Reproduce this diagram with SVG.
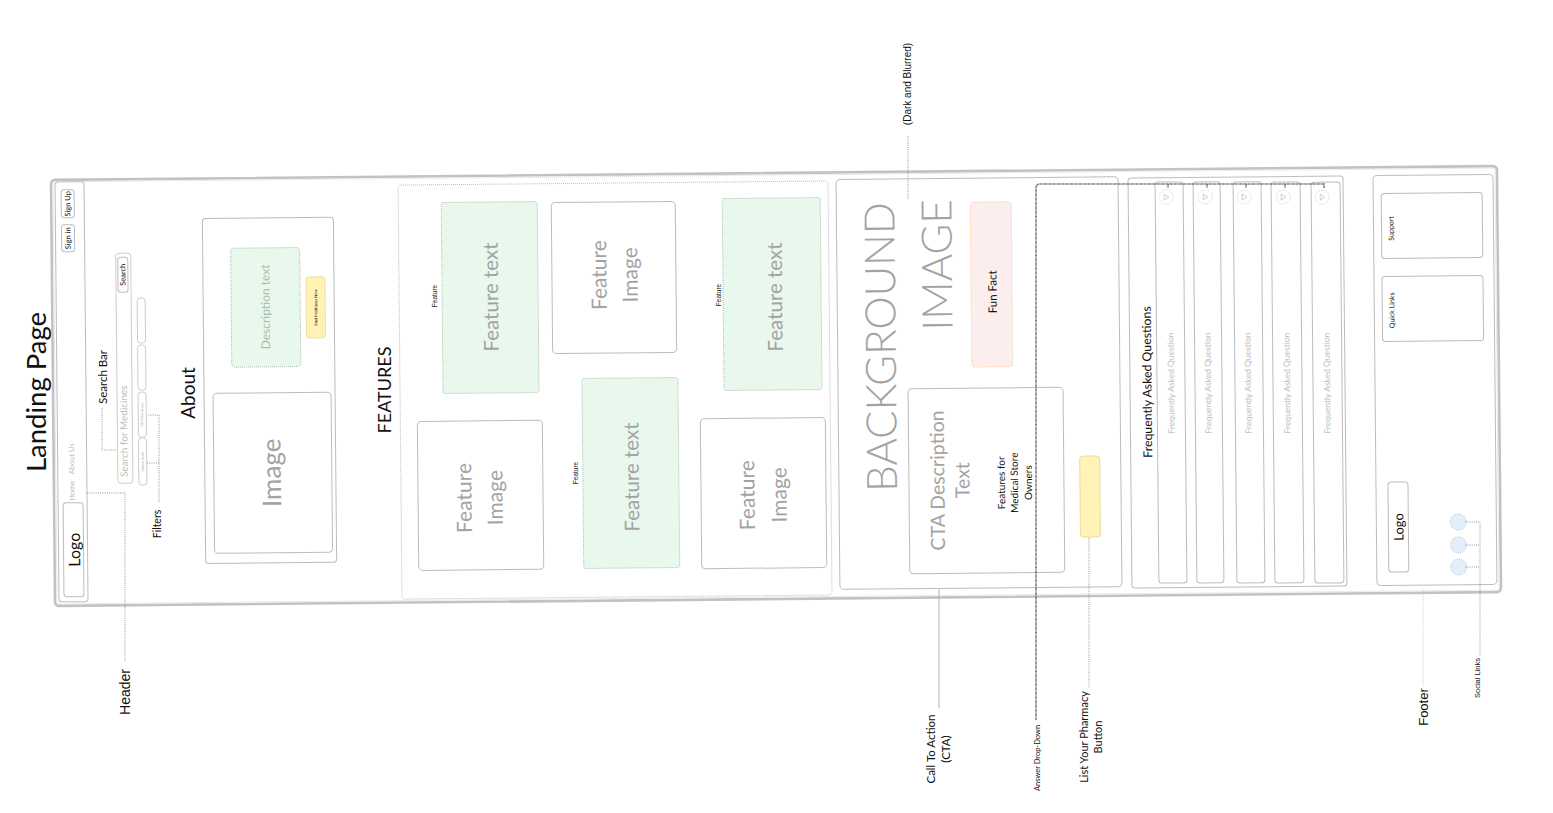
<svg xmlns="http://www.w3.org/2000/svg" width="1553" height="813" viewBox="0 0 1553 813">
<style>
.bg{fill:#fff}
.box{fill:#fff;stroke:#bdbdbd;stroke-width:1}
.lbox{fill:none;stroke:#c8c8c8;stroke-width:0.9}
.dbox{fill:#fff;stroke:#b5b5b5;stroke-width:0.9;stroke-dasharray:1 1}
.green{fill:#e9f8ec;stroke:#a9b7ab;stroke-width:0.9;stroke-dasharray:1 1}
.dot{fill:none;stroke:#8a8a8a;stroke-width:0.9;stroke-dasharray:1 1.2}
.dense{fill:none;stroke:#555;stroke-width:1.6;stroke-dasharray:0.8 0.5}
.solid{fill:none;stroke:#aaa;stroke-width:0.9}
.t{font-family:Lato,"Noto Sans",sans-serif;text-anchor:middle;dominant-baseline:central;fill:#111}
.a{font-family:"Liberation Sans",Arial,sans-serif;text-anchor:middle;dominant-baseline:central;fill:#111}
.g{fill:#a3a3a3}
.lg{fill:#bdbdbd}
</style>
<rect class="bg" x="0" y="0" width="1553" height="813"/>

<g id="title">
<text class="t" x="35" y="392" font-size="27.5" transform="rotate(-90 35 392)">Landing Page</text>
</g>

<g id="wireframe" transform="rotate(-0.55 776 386)">
  <g id="frame">
    <rect x="53" y="173" width="1446" height="426" rx="4" fill="none" stroke="#c2c2c2" stroke-width="2.6"/>
    <rect x="55" y="175" width="1442" height="422" rx="3" fill="none" stroke="#e6e6e6" stroke-width="0.8"/>
  </g>

  <g id="header">
    <rect class="box" x="57" y="175" width="29" height="420" rx="3"/>
    <rect class="box" x="62" y="496" width="20" height="94" rx="3"/>
    <text class="t" x="72" y="543" font-size="16" transform="rotate(-90 72 543)">Logo</text>
    <text class="t lg" x="71" y="484" font-size="7.5" transform="rotate(-90 71 484)">Home</text>
    <text class="t lg" x="71" y="452" font-size="7.5" transform="rotate(-90 71 452)">About Us</text>
    <rect class="box" x="63" y="218" width="13" height="27" rx="3"/>
    <text class="t" x="69.5" y="231.5" font-size="7.5" transform="rotate(-90 69.5 231.5)">Sign in</text>
    <rect class="box" x="63" y="183" width="13" height="28" rx="3"/>
    <text class="t" x="69.5" y="197" font-size="7.5" transform="rotate(-90 69.5 197)">Sign Up</text>
  </g>

  <g id="search-bar">
    <rect class="lbox" x="117" y="247" width="15" height="230" rx="3"/>
    <text class="t lg" x="123" y="425" font-size="10" transform="rotate(-90 123 425)">Search for Medicines</text>
    <rect class="box" x="119" y="251" width="10" height="35" rx="3"/>
    <text class="t" x="124" y="268.5" font-size="7.5" transform="rotate(-90 124 268.5)">Search</text>
  </g>

  <g id="filters">
    <rect class="lbox" x="138" y="292" width="8" height="45" rx="3"/>
    <rect class="lbox" x="138" y="339" width="8" height="45" rx="3"/>
    <rect class="lbox" x="138" y="386" width="8" height="45" rx="3"/>
    <text class="t g" x="142" y="408.5" font-size="3.2" transform="rotate(-90 142 408.5)">24/7 Pharmacies</text>
    <rect class="lbox" x="138" y="432" width="8" height="47" rx="3"/>
    <text class="t g" x="142" y="455.5" font-size="3.2" transform="rotate(-90 142 455.5)">Highest Rated</text>
  </g>

  <g id="about">
    <rect class="box" x="204" y="213" width="131" height="345" rx="3"/>
    <rect class="box" x="213" y="388" width="118" height="160" rx="4"/>
    <text class="t g" x="270" y="468" font-size="26" transform="rotate(-90 270 468)">Image</text>
    <rect class="green" x="232" y="243" width="69" height="119" rx="3"/>
    <text class="t" x="266" y="302" font-size="12" style="fill:#a9bcab" transform="rotate(-90 266 302)">Description text</text>
    <rect x="307" y="272.5" width="19" height="61" rx="3" fill="#fff2b3" stroke="#e9d996" stroke-width="0.8"/>
    <text class="t" x="316.5" y="303" font-size="4" transform="rotate(-90 316.5 303)">Find Medicines Now</text>
  </g>

  <g id="features">
    <rect class="dbox" x="400" y="181.5" width="430" height="414" rx="3"/>
    <rect class="green" x="443" y="199.3" width="96" height="191" rx="2"/>
    <text class="t g" x="491" y="294.3" font-size="20.5" transform="rotate(-90 491 294.3)">Feature text</text>
    <rect class="box" x="417" y="418" width="125" height="149" rx="4"/>
    <text class="t g" x="462" y="495" font-size="21" transform="rotate(-90 462 495)">Feature</text>
    <text class="t g" x="493" y="495" font-size="21" transform="rotate(-90 493 495)">Image</text>
    <rect class="box" x="553" y="200.5" width="124" height="151" rx="4"/>
    <text class="t g" x="599" y="273.5" font-size="21" transform="rotate(-90 599 273.5)">Feature</text>
    <text class="t g" x="630" y="273.5" font-size="21" transform="rotate(-90 630 273.5)">Image</text>
    <rect class="green" x="582" y="376.6" width="96" height="190" rx="2"/>
    <text class="t g" x="630" y="475.6" font-size="20.5" transform="rotate(-90 630 475.6)">Feature text</text>
    <rect class="green" x="724" y="198" width="98" height="192" rx="2"/>
    <text class="t g" x="775" y="297" font-size="20.5" transform="rotate(-90 775 297)">Feature text</text>
    <rect class="box" x="700" y="418" width="125" height="150" rx="4"/>
    <text class="t g" x="745" y="495" font-size="21" transform="rotate(-90 745 495)">Feature</text>
    <text class="t g" x="777" y="495" font-size="21" transform="rotate(-90 777 495)">Image</text>
  </g>

  <g id="cta">
    <rect class="box" x="838" y="180" width="282" height="410" rx="4"/>
    <text class="t g" x="880" y="348" font-size="42" font-weight="300" transform="rotate(-90 880 348)">BACKGROUND</text>
    <text class="t g" x="937" y="266.5" font-size="42" font-weight="300" transform="rotate(-90 937 266.5)">IMAGE</text>
    <rect x="972" y="204" width="41" height="165" rx="3" fill="#fdeeee" stroke="#f3c9a3" stroke-width="0.9" stroke-dasharray="1 1"/>
    <text class="t" x="993" y="294" font-size="11.5" transform="rotate(-90 993 294)">Fun Fact</text>
    <rect class="box" x="908" y="390" width="155" height="185" rx="4"/>
    <text class="t g" x="936" y="482" font-size="19.5" transform="rotate(-90 936 482)">CTA Description</text>
    <text class="t g" x="961" y="482" font-size="19.5" transform="rotate(-90 961 482)">Text</text>
    <text class="t" x="1000" y="485" font-size="10" transform="rotate(-90 1000 485)">Features for</text>
    <text class="t" x="1013" y="485" font-size="10" transform="rotate(-90 1013 485)">Medical Store</text>
    <text class="t" x="1027" y="485" font-size="10" transform="rotate(-90 1027 485)">Owners</text>
    <rect x="1079" y="459" width="20" height="81" rx="3" fill="#fff3b8" stroke="#e6d58c" stroke-width="0.8"/>
  </g>

  <g id="faq">
    <rect class="box" x="1130" y="181.4" width="215" height="410" rx="3"/>
    <text class="t" x="1147" y="385.6" font-size="12.3" transform="rotate(-90 1147 385.6)">Frequently Asked Questions</text>
    <g id="faq-1">
      <rect class="box" x="1157" y="185.8" width="28" height="401" rx="3"/>
      <circle cx="1168" cy="200.8" r="7" fill="#fff" stroke="#ccc" stroke-width="0.8" stroke-dasharray="1 1"/>
      <path d="M1166 198v6l4.5-3z" fill="none" stroke="#bbb" stroke-width="0.7"/>
      <text class="t lg" x="1171" y="386.8" font-size="8.5" transform="rotate(-90 1171 386.8)">Frequently Asked Question</text>
    </g>
    <g id="faq-2">
      <rect class="box" x="1195" y="186.1" width="27" height="401" rx="3"/>
      <circle cx="1207" cy="201.1" r="7" fill="#fff" stroke="#ccc" stroke-width="0.8" stroke-dasharray="1 1"/>
      <path d="M1205 198.1v6l4.5-3z" fill="none" stroke="#bbb" stroke-width="0.7"/>
      <text class="t lg" x="1208" y="387.1" font-size="8.5" transform="rotate(-90 1208 387.1)">Frequently Asked Question</text>
    </g>
    <g id="faq-3">
      <rect class="box" x="1235" y="186.5" width="28" height="401" rx="3"/>
      <circle cx="1246" cy="201.5" r="7" fill="#fff" stroke="#ccc" stroke-width="0.8" stroke-dasharray="1 1"/>
      <path d="M1244 198.5v6l4.5-3z" fill="none" stroke="#bbb" stroke-width="0.7"/>
      <text class="t lg" x="1248" y="387.5" font-size="8.5" transform="rotate(-90 1248 387.5)">Frequently Asked Question</text>
    </g>
    <g id="faq-4">
      <rect class="box" x="1273" y="186.9" width="29" height="401" rx="3"/>
      <circle cx="1285" cy="201.9" r="7" fill="#fff" stroke="#ccc" stroke-width="0.8" stroke-dasharray="1 1"/>
      <path d="M1283 198.9v6l4.5-3z" fill="none" stroke="#bbb" stroke-width="0.7"/>
      <text class="t lg" x="1287" y="387.9" font-size="8.5" transform="rotate(-90 1287 387.9)">Frequently Asked Question</text>
    </g>
    <g id="faq-5">
      <rect class="box" x="1313" y="187.3" width="29" height="401" rx="3"/>
      <circle cx="1324" cy="202.3" r="7" fill="#fff" stroke="#ccc" stroke-width="0.8" stroke-dasharray="1 1"/>
      <path d="M1322 199.3v6l4.5-3z" fill="none" stroke="#bbb" stroke-width="0.7"/>
      <text class="t lg" x="1327" y="388.3" font-size="8.5" transform="rotate(-90 1327 388.3)">Frequently Asked Question</text>
    </g>
  </g>

  <g id="footer">
    <rect class="box" x="1375" y="181.3" width="120" height="410" rx="4"/>
    <rect class="box" x="1383" y="199.3" width="101" height="65" rx="3"/>
    <text class="t" x="1392" y="234.3" font-size="7" transform="rotate(-90 1392 234.3)">Support</text>
    <rect class="box" x="1383" y="282.3" width="101" height="65" rx="3"/>
    <text class="t" x="1392" y="316.3" font-size="7" transform="rotate(-90 1392 316.3)">Quick Links</text>
    <rect class="box" x="1387" y="488" width="20" height="90" rx="3"/>
    <text class="t" x="1397" y="533" font-size="13" transform="rotate(-90 1397 533)">Logo</text>
    <circle cx="1457" cy="528.5" r="8" fill="#e3f0fc" stroke="#9fbcd6" stroke-width="0.8" stroke-dasharray="1 1"/>
    <circle cx="1457" cy="551.5" r="8" fill="#e3f0fc" stroke="#9fbcd6" stroke-width="0.8" stroke-dasharray="1 1"/>
    <circle cx="1457" cy="573.5" r="8" fill="#e3f0fc" stroke="#9fbcd6" stroke-width="0.8" stroke-dasharray="1 1"/>
  </g>
</g>

<g id="labels">
  <text class="t" x="102" y="377" font-size="11.5" transform="rotate(-90 102 377)">Search Bar</text>
  <text class="t" x="157" y="524" font-size="10.5" transform="rotate(-90 157 524)">Filters</text>
  <text class="t" x="187" y="393" font-size="19" transform="rotate(-90 187 393)">About</text>
  <text class="t" x="384" y="390" font-size="18" transform="rotate(-90 384 390)">FEATURES</text>
  <text class="a" x="434" y="296" font-size="6.5" transform="rotate(-90 434 296)">Feature</text>
  <text class="a" x="575" y="473" font-size="6.5" transform="rotate(-90 575 473)">Feature</text>
  <text class="a" x="718" y="295" font-size="6.5" transform="rotate(-90 718 295)">Feature</text>
  <text class="a" x="125" y="692" font-size="14" transform="rotate(-90 125 692)">Header</text>
  <text class="a" x="907" y="84" font-size="10" transform="rotate(-90 907 84)">(Dark and Blurred)</text>
  <text class="t" x="930" y="749" font-size="11.5" transform="rotate(-90 930 749)">Call To Action</text>
  <text class="t" x="945" y="749" font-size="11.5" transform="rotate(-90 945 749)">(CTA)</text>
  <text class="t" x="1037" y="758" font-size="7.5" transform="rotate(-90 1037 758)">Answer Drop-Down</text>
  <text class="t" x="1083" y="737" font-size="11" transform="rotate(-90 1083 737)">List Your Pharmacy</text>
  <text class="t" x="1097" y="737" font-size="11" transform="rotate(-90 1097 737)">Button</text>
  <text class="a" x="1423" y="707" font-size="13" transform="rotate(-90 1423 707)">Footer</text>
  <text class="a" x="1477" y="678" font-size="7.5" transform="rotate(-90 1477 678)">Social Links</text>
</g>

<g id="connectors">
  <path class="dot" d="M87 493H125V662"/>
  <path class="dot" d="M102 408V450H117"/>
  <path class="dot" d="M159 502V415H147M159 463H147"/>
  <path class="dot" d="M908 136V200"/>
  <path class="solid" d="M939 589V708"/>
  <path class="dense" d="M1036 720V188Q1036 184 1040 184H1324V188M1168 184V188M1207 184V188M1246 184V188M1285 184V188"/>
  <path class="dot" d="M1089 538V688"/>
  <path class="dot" style="stroke:#c4c4c4" d="M1423 588V686"/>
  <path class="dot" d="M1465 522H1480V656M1465 545H1479M1465 567H1479"/>
</g>
</svg>
